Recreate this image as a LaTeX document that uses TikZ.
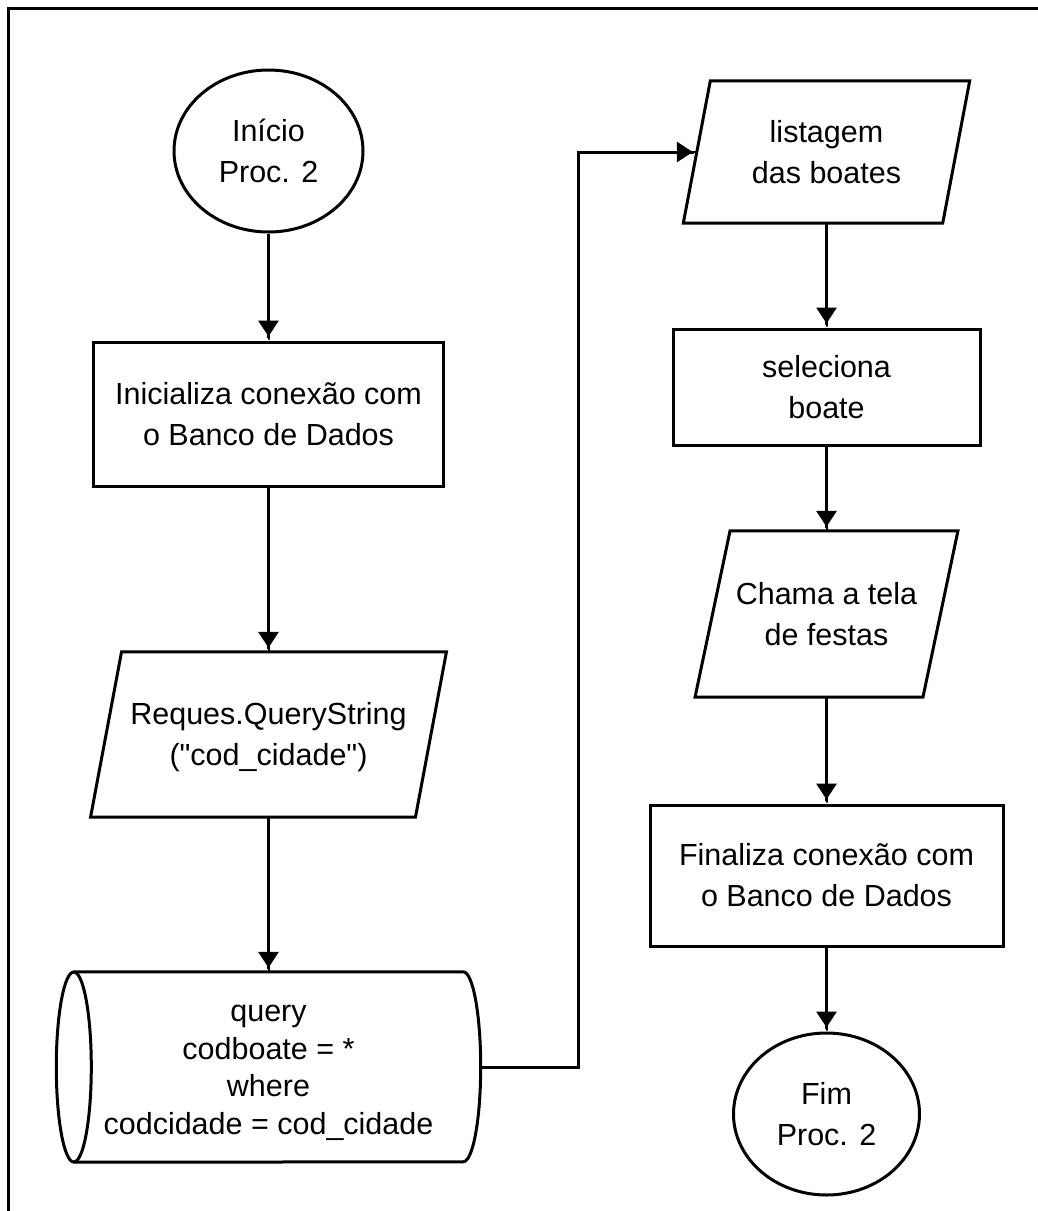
\documentclass[tikz,border=0pt]{standalone}
\usepackage{fontspec}
\setmainfont{Liberation Sans}[Ligatures=TeXOff]
\usetikzlibrary{arrows.meta,shapes.geometric}
% invisible strut so every text line has the same height and depth
\newcommand\lnstrut{\rule[-0.23em]{0pt}{1.18em}}
% straight double quote
\newcommand\dq{\symbol{34}}
% outline of an input/output (parallelogram) node: #1 node name, #2 slant
\newcommand\ioshape[2]{%
  \draw[outline] ([xshift=-#2]#1.south west) -- ([xshift=#2]#1.north west)
    -- ([xshift=#2]#1.north east) -- ([xshift=-#2]#1.south east) -- cycle;}
\begin{document}
\begin{tikzpicture}[x=1pt,y=-1pt,
  outline/.style={line width=3pt, line join=miter},
  txt/.style={font=\fontsize{30.5}{41}\selectfont, align=center, inner sep=0pt},
  procbox/.style={txt, draw, line width=3pt, rectangle},
  termnode/.style={txt, draw, line width=3pt, ellipse},
  ionode/.style={txt, rectangle},
  flow/.style={line width=3pt,
    -{Triangle[width=20pt,length=16pt] Rectangle[width=2pt,length=4pt]}}]

\useasboundingbox (0,0) rectangle (1037,1211);
\fill[white] (0,0) rectangle (1037,1211);

% frame
\draw[line width=3pt] (8,1215) -- (8,8) -- (1041,8);

% left column
\node[termnode, minimum width=189pt, minimum height=162pt] (start) at (268.5,151)
  {\lnstrut Início\\\lnstrut Proc. 2};
\node[procbox, minimum width=350pt, minimum height=144pt] (init) at (268.5,414)
  {\lnstrut Inicializa conexão com\\\lnstrut o Banco de Dados};
\node[ionode, minimum width=324.5pt, minimum height=165pt] (req) at (268.5,734.5)
  {\lnstrut Reques.QueryString\\\lnstrut (\dq cod\_cidade\dq)};
\ioshape{req}{15.5pt}
\node[ionode, font=\fontsize{30.5}{37.5}\selectfont, minimum width=389pt, minimum height=190pt]
  (db) at (268.5,1067)
  {\lnstrut query\\\lnstrut codboate = *\\\lnstrut where\\\lnstrut codcidade = cod\_cidade};
\draw[outline] (db.north west) -- (db.north east)
  arc[start angle=90, end angle=-90, x radius=17.5pt, y radius=95pt]
  -- (db.south west);
\draw[outline] (db.west) ellipse [x radius=17.5pt, y radius=95pt];
\coordinate (dbout) at ([xshift=17.5pt]db.east);

% right column
\node[ionode, minimum width=259pt, minimum height=142pt] (list) at (826.5,152)
  {\lnstrut listagem\\\lnstrut das boates};
\ioshape{list}{13.5pt}
\node[procbox, minimum width=307pt, minimum height=116pt] (sel) at (826.5,387)
  {\lnstrut seleciona\\\lnstrut boate};
\node[ionode, minimum width=227.5pt, minimum height=166pt] (call) at (826.5,614)
  {\lnstrut Chama a tela\\\lnstrut de festas};
\ioshape{call}{17.5pt}
\node[procbox, minimum width=353pt, minimum height=141pt] (fin) at (826.5,875.5)
  {\lnstrut Finaliza conexão com\\\lnstrut o Banco de Dados};
\node[termnode, minimum width=186pt, minimum height=162pt] (stop) at (826.5,1114)
  {\lnstrut Fim\\\lnstrut Proc. 2};

% connectors
\draw[flow] (start) -- (init);
\draw[flow] (init) -- (req.north);
\draw[flow] (req.south) -- (db.north);
\draw[flow] (dbout) -- ++(98,0) |- (list.west);
\draw[flow] (list.south) -- (sel);
\draw[flow] (sel) -- (call.north);
\draw[flow] (call.south) -- (fin);
\draw[flow] (fin) -- (stop);
\end{tikzpicture}
\end{document}
